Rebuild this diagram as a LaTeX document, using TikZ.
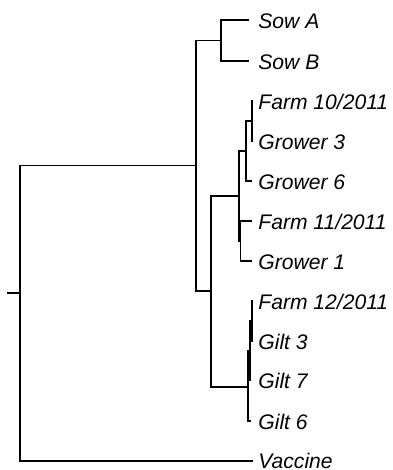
\documentclass[tikz,border=0pt]{standalone}
\usepackage{fontspec}
\setmainfont{Liberation Sans}
\usetikzlibrary{calc}
\tikzset{branch/.style={line width=0.65pt,black}}
\tikzset{leaf/.style={anchor=west,inner xsep=0pt,inner ysep=0pt,text height=7.6pt,text depth=0pt,font=\fontsize{10.55}{12}\selectfont\itshape}}
\begin{document}
\begin{tikzpicture}[x=0.5pt,y=-0.5pt]
\useasboundingbox (0,0) rectangle (392,470);
% internal nodes
\coordinate (stub) at (7,293);
\coordinate (root) at (20,293);
\coordinate (top) at (196,165.5);
\coordinate (sow) at (221,40.5);
\coordinate (mix) at (211,291);
\coordinate (farm) at (239,196);
\coordinate (farmA) at (246,151);
\coordinate (farmAA) at (252,121);
\coordinate (farmB) at (240.5,241);
\coordinate (gilt) at (248,387);
\coordinate (giltA) at (250,351);
\coordinate (giltAA) at (252,321);
% tips
\coordinate (tSowA) at (249,20);
\coordinate (tSowB) at (249,61);
\coordinate (tF10) at (253,101);
\coordinate (tG3) at (253,141);
\coordinate (tG6) at (252,181);
\coordinate (tF11) at (252,221);
\coordinate (tG1) at (252,261);
\coordinate (tF12) at (253,301);
\coordinate (tGi3) at (253,341);
\coordinate (tGi7) at (251,380);
\coordinate (tGi6) at (251,421);
\coordinate (tVac) at (253,461);
% labels
\node[leaf] (sowA) at (258,21) {Sow A};
\node[leaf] (sowB) at (258,62) {Sow B};
\node[leaf] (farm10) at (258,102) {Farm 10/2011};
\node[leaf] (grower3) at (258,142) {Grower 3};
\node[leaf] (grower6) at (258,182) {Grower 6};
\node[leaf] (farm11) at (258,222) {Farm 11/2011};
\node[leaf] (grower1) at (258,262) {Grower 1};
\node[leaf] (farm12) at (258,302) {Farm 12/2011};
\node[leaf] (gilt3) at (258,342) {Gilt 3};
\node[leaf] (gilt7) at (258,381) {Gilt 7};
\node[leaf] (gilt6) at (258,422) {Gilt 6};
\node[leaf] (vaccine) at (258,460.5) {Vaccine};
% branches
\draw[branch] (stub)--(root);
\draw[branch] (root) |- (top) (root) |- (tVac);
\draw[branch] (top) |- (sow) (top) |- (mix);
\draw[branch] (sow) |- (tSowA) (sow) |- (tSowB);
\draw[branch] (mix) |- (farm) (mix) |- (gilt);
\draw[branch] (farm) |- (farmA) (farm) |- (farmB);
\draw[branch] (farmA) |- (farmAA) (farmA) |- (tG6);
\draw[branch] (farmAA) |- (tF10) (farmAA) |- (tG3);
\draw[branch] (farmB) |- (tF11) (farmB) |- (tG1);
\draw[branch] (gilt) |- (giltA) (gilt) |- (tGi6);
\draw[branch] (giltA) |- (giltAA) (giltA) |- (tGi7);
\draw[branch] (giltAA) |- (tF12) (giltAA) |- (tGi3);
\end{tikzpicture}
\end{document}
